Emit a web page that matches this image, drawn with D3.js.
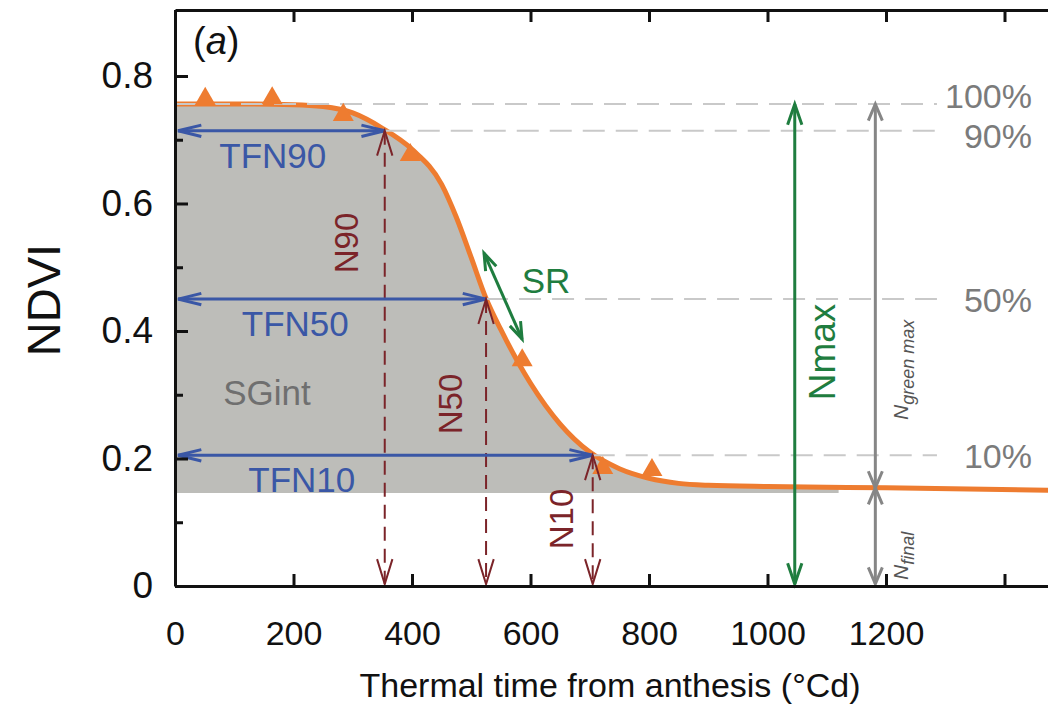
<!DOCTYPE html>
<html>
<head>
<meta charset="utf-8">
<script src="https://cdn.jsdelivr.net/npm/d3@7"></script>
<style>
  body { margin: 0; background: #fff; }
  svg { display: block; font-family: "Liberation Sans", Arial, Helvetica, sans-serif; }
</style>
</head>
<body>
<div id="chart"></div>
<script>
// fitted NDVI curve
const curveTime = [0, 100, 200, 250, 300, 350, 400, 450, 475, 500, 525, 550, 600, 650, 700, 750, 800, 850, 900, 1000, 1100, 1200, 1500];
const curveNdvi = [0.756, 0.756, 0.755, 0.752, 0.742, 0.718, 0.685, 0.630, 0.578, 0.515, 0.451, 0.402, 0.318, 0.254, 0.210, 0.184, 0.169, 0.161, 0.158, 0.156, 0.155, 0.154, 0.150];

// measured NDVI (triangles)
const obsTime = [51, 164, 284, 397, 586, 722, 805];
const obsNdvi = [0.764, 0.765, 0.739, 0.676, 0.354, 0.185, 0.182];

// senescence levels and the thermal time where the curve crosses them
const levelLabels = ['100%', '90%', '50%', '10%'];
const levelNdvi = [0.756, 0.714, 0.450, 0.205];
const levelTime = [0, 354, 525, 705];
const tfnLabels = ['TFN90', 'TFN50', 'TFN10'];
const nLabels = ['N90', 'N50', 'N10'];

const nFinal = 0.154;
const sgBase = 0.146;
const fillEnd = 1120;
const refEnd = 1286;
const nMaxTime = 1046;
const nGreenTime = 1182;
const srSlope = -0.0021;

const xTicks = [0, 200, 400, 600, 800, 1000, 1200, 1400];
const xTickLabels = ['0', '200', '400', '600', '800', '1000', '1200', ''];
const yTicks = [0, 0.2, 0.4, 0.6, 0.8];
const yTickLabels = ['0', '0.2', '0.4', '0.6', '0.8'];
const yMinorTicks = [0.1, 0.3, 0.5, 0.7];

const W = 1048, H = 706;
const ORANGE = '#ee7c30', BLUE = '#3a57a6', RED = '#7b2429', GREEN = '#1f7d3f', GREY = '#868686';

const svg = d3.select('#chart').append('svg')
    .attr('width', W)
    .attr('height', H);

// plot runs off the right edge of the picture
const x = d3.scaleLinear().domain([0, 1500]).range([175, 175 + 1500 * 0.5925]);
const y = d3.scaleLinear().domain([0, 0.9035]).range([586, 10]);

const curve = curveTime.map((t, i) => ({t: t, v: curveNdvi[i]}));
const curveAt = d3.scaleLinear().domain(curveTime).range(curveNdvi);

// SGint area
const fillPts = curve.filter(d => d.t < fillEnd).concat([{t: fillEnd, v: curveAt(fillEnd)}]);
svg.append('path')
    .datum(fillPts)
    .attr('fill', '#bdbdb9')
    .attr('d', d3.area().x(d => x(d.t)).y0(y(sgBase)).y1(d => y(d.v)).curve(d3.curveMonotoneX));

// fitted curve
svg.append('path')
    .datum(curve)
    .attr('fill', 'none')
    .attr('stroke', ORANGE)
    .attr('stroke-width', 5)
    .attr('d', d3.line().x(d => x(d.t)).y(d => y(d.v)).curve(d3.curveMonotoneX));

// dashed reference lines
svg.selectAll('.ref')
    .data(levelNdvi)
    .enter().append('line')
    .attr('class', 'ref')
    .attr('x1', (d, i) => x(levelTime[i]))
    .attr('x2', x(refEnd))
    .attr('y1', d => y(d))
    .attr('y2', d => y(d))
    .attr('stroke', '#c9c9c9')
    .attr('stroke-width', 2)
    .attr('stroke-dasharray', '22,11');

const pctShift = [-8, 5, 1, 1];
svg.selectAll('.pct')
    .data(levelLabels)
    .enter().append('text')
    .attr('class', 'pct')
    .attr('x', 1032)
    .attr('y', (d, i) => y(levelNdvi[i]) + pctShift[i])
    .attr('dy', '0.35em')
    .attr('text-anchor', 'end')
    .attr('font-size', 34)
    .attr('fill', '#7b7b7b')
    .text(d => d);

// observations
svg.selectAll('.obs')
    .data(obsTime)
    .enter().append('path')
    .attr('class', 'obs')
    .attr('transform', (d, i) => `translate(${x(d)},${y(obsNdvi[i])})`)
    .attr('d', d3.symbol(d3.symbolTriangle, 190))
    .attr('fill', ORANGE);

function head(g, x1, y1, x2, y2, color, w, L, s) {
    // open chevron at (x2, y2)
    const a = Math.atan2(y2 - y1, x2 - x1);
    const p = d3.path();
    p.moveTo(x2 - L * Math.cos(a - s), y2 - L * Math.sin(a - s));
    p.lineTo(x2, y2);
    p.lineTo(x2 - L * Math.cos(a + s), y2 - L * Math.sin(a + s));
    g.append('path')
        .attr('d', p.toString())
        .attr('fill', 'none')
        .attr('stroke', color)
        .attr('stroke-width', w);
}

function dblArrow(g, x1, y1, x2, y2, color, w, L, s, dash) {
    g.append('line')
        .attr('x1', x1).attr('y1', y1)
        .attr('x2', x2).attr('y2', y2)
        .attr('stroke', color)
        .attr('stroke-width', w)
        .attr('stroke-dasharray', dash || null);
    head(g, x1, y1, x2, y2, color, w, L, s);
    head(g, x2, y2, x1, y1, color, w, L, s);
}

const ann = svg.append('g');

// TFN arrows and N dashed arrows
const tfnLabelTime = [165, 203, 214];
const nLabelPos = [[358, 243], [462, 404], [573, 519]];
tfnLabels.forEach((lab, k) => {
    const i = k + 1;
    const yy = y(levelNdvi[i]);
    dblArrow(ann, x(0) + 3, yy, x(levelTime[i]), yy, BLUE, 3, 24, 0.24);
    ann.append('text')
        .attr('x', x(tfnLabelTime[k]))
        .attr('y', yy + 37)
        .attr('text-anchor', 'middle')
        .attr('font-size', 35)
        .attr('fill', BLUE)
        .text(lab);

    dblArrow(ann, x(levelTime[i]), yy, x(levelTime[i]), y(0) - 2, RED, 2, 26, 0.3, '14,8');
    ann.append('text')
        .attr('transform', `translate(${nLabelPos[k][0]},${nLabelPos[k][1]}) rotate(-90)`)
        .attr('text-anchor', 'middle')
        .attr('font-size', 33)
        .attr('fill', RED)
        .text(nLabels[k]);
});

// SR tangent arrow, drawn beside the 50% point
const pxPerT = 0.5925, pxPerN = 576 / 0.9035;
const sx = x(levelTime[2]) + 17, sy = y(levelNdvi[2]) - 3;
const sdy = -srSlope * pxPerN / pxPerT;
const len = Math.hypot(1, sdy);
const ux = 1 / len, uy = sdy / len;
dblArrow(ann, sx - 47 * ux, sy - 47 * uy, sx + 47 * ux, sy + 47 * uy, GREEN, 3, 18, 0.33);
ann.append('text')
    .attr('x', 546).attr('y', 293)
    .attr('text-anchor', 'middle')
    .attr('font-size', 35)
    .attr('fill', GREEN)
    .text('SR');

// Nmax
dblArrow(ann, x(nMaxTime), y(levelNdvi[0]), x(nMaxTime), y(0) - 2, GREEN, 3, 22, 0.33);
ann.append('text')
    .attr('transform', `translate(835,352) rotate(-90)`)
    .attr('text-anchor', 'middle')
    .attr('font-size', 37)
    .attr('fill', GREEN)
    .text('Nmax');

// Ngreen max / Nfinal
dblArrow(ann, x(nGreenTime), y(levelNdvi[0]), x(nGreenTime), y(nFinal), GREY, 3, 18, 0.4);
dblArrow(ann, x(nGreenTime), y(nFinal), x(nGreenTime), y(0) - 2, GREY, 3, 18, 0.4);

function subLabel(px, py, sub) {
    const t = ann.append('text')
        .attr('transform', `translate(${px},${py}) rotate(-90)`)
        .attr('font-style', 'italic')
        .attr('fill', '#555')
        .attr('font-size', 21);
    t.append('tspan').text('N');
    t.append('tspan').attr('font-size', 18).attr('dy', 6).text(sub);
}
subLabel(908, 420, 'green max');
subLabel(908, 580, 'final');

ann.append('text')
    .attr('x', 267).attr('y', 405)
    .attr('text-anchor', 'middle')
    .attr('font-size', 35)
    .attr('fill', '#6f6f6f')
    .text('SGint');

// panel tag
const tag = svg.append('text')
    .attr('x', 193).attr('y', 54)
    .attr('font-size', 38)
    .attr('fill', '#111');
tag.append('tspan').text('(');
tag.append('tspan').attr('font-style', 'italic').text('a');
tag.append('tspan').text(')');

// axes
const axisStyle = g => {
    g.select('.domain').attr('stroke', '#111').attr('stroke-width', 3);
    g.selectAll('.tick line').attr('stroke', '#111').attr('stroke-width', 3);
    g.selectAll('text').attr('fill', '#111');
};

svg.append('g')
    .attr('transform', `translate(0,${y(0)})`)
    .call(d3.axisBottom(x).tickValues(xTicks).tickSize(-12).tickSizeOuter(0).tickPadding(35)
        .tickFormat((d, i) => xTickLabels[i]))
    .attr('font-family', null)
    .attr('font-size', 34)
    .call(axisStyle);

svg.append('g')
    .attr('transform', `translate(0,${y.range()[1]})`)
    .call(d3.axisTop(x).tickValues(xTicks).tickSize(-12).tickSizeOuter(0).tickFormat(''))
    .call(axisStyle);

svg.append('g')
    .attr('transform', `translate(${x(0)},0)`)
    .call(d3.axisLeft(y).tickValues(yTicks).tickSize(-13).tickSizeOuter(0).tickPadding(22)
        .tickFormat((d, i) => yTickLabels[i]))
    .attr('font-family', null)
    .attr('font-size', 37)
    .call(axisStyle);

svg.append('g')
    .attr('transform', `translate(${x(0)},0)`)
    .call(d3.axisLeft(y).tickValues(yMinorTicks).tickSize(-8).tickSizeOuter(0).tickFormat(''))
    .call(axisStyle)
    .call(g => g.select('.domain').remove());

svg.append('text')
    .attr('transform', 'translate(60,300) rotate(-90)')
    .attr('text-anchor', 'middle')
    .attr('font-size', 47)
    .attr('fill', '#111')
    .text('NDVI');

svg.append('text')
    .attr('x', 610).attr('y', 697)
    .attr('text-anchor', 'middle')
    .attr('font-size', 34)
    .attr('fill', '#111')
    .text('Thermal time from anthesis (°Cd)');
</script>
</body>
</html>
